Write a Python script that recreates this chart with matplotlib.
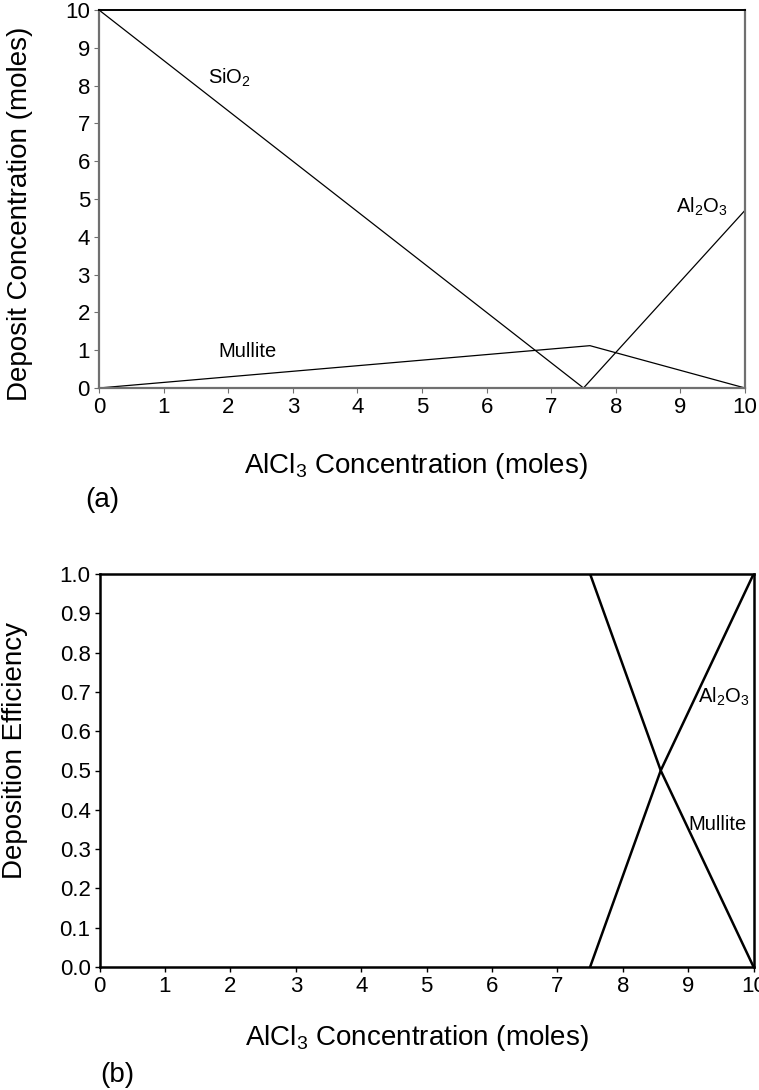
import matplotlib
matplotlib.use("Agg")
import matplotlib.pyplot as plt

plt.rcParams['font.family'] = ['Liberation Sans', 'DejaVu Sans']
plt.rcParams['mathtext.fontset'] = 'custom'
plt.rcParams['mathtext.rm'] = 'Liberation Sans'
plt.rcParams['mathtext.it'] = 'Liberation Sans'
plt.rcParams['mathtext.default'] = 'regular'

# (a) deposit concentration vs AlCl3
sio2_x = [0, 7.5]
sio2_y = [10, 0]
al2o3_x = [7.5, 10]
al2o3_y = [0, 4.7]
mullite_x = [0, 7.6, 10]
mullite_y = [0, 1.12, 0]

# (b) deposition efficiency
eff_x = [7.5, 8.58, 10]
eff_al2o3 = [0, 0.5, 1.0]
eff_mullite = [1.0, 0.5, 0]

x_ticks = list(range(0, 11))
y_ticks_a = list(range(0, 11))
y_ticks_b = [i / 10 for i in range(0, 11)]

W, H = 759, 1090
fig = plt.figure(figsize=(W / 100, H / 100), dpi=100)

def box(l, t, r, b):
    return [l / W, 1 - b / H, (r - l) / W, (b - t) / H]

grey = '#707070'
label_fs = 20
tick_fs = 16
note_fs = 14.5

# ---- panel (a)
ax1 = fig.add_axes(box(99, 10, 745, 388))
ax1.plot(sio2_x, sio2_y, color='black', lw=0.9)
ax1.plot(al2o3_x, al2o3_y, color='black', lw=0.9)
ax1.plot(mullite_x, mullite_y, color='black', lw=0.9)
ax1.set_xlim(0, 10)
ax1.set_ylim(0, 10)
ax1.set_xticks(x_ticks)
ax1.set_yticks(y_ticks_a)
ax1.tick_params(labelsize=tick_fs, direction='out', length=3.5, width=0.8,
                color=grey, pad=3)
ax1.set_ylabel('Deposit Concentration (moles)', fontsize=label_fs)
ax1.yaxis.set_label_coords(-0.102, 0.46)
ax1.set_xlabel(r'AlCl$_3$ Concentration (moles)', fontsize=label_fs, va='baseline')
ax1.xaxis.set_label_coords(0.49, -0.225)
ax1.spines['top'].set_linewidth(1.4)
for side in ['left', 'bottom', 'right']:
    ax1.spines[side].set_color(grey)
    ax1.spines[side].set_linewidth(1.6)
ax1.text(1.68, 8.04, r'SiO$_2$', fontsize=note_fs)
ax1.text(8.93, 4.63, r'Al$_2$O$_3$', fontsize=note_fs)
ax1.text(1.85, 0.82, 'Mullite', fontsize=note_fs)
fig.text(85 / W, 1 - 500 / H, '(a)', fontsize=label_fs, va='center')

# ---- panel (b)
ax2 = fig.add_axes(box(99.6, 574, 753.6, 967))
ax2.plot(eff_x, eff_al2o3, color='black', lw=1.8)
ax2.plot(eff_x, eff_mullite, color='black', lw=1.8)
ax2.set_xlim(0, 10)
ax2.set_ylim(0, 1.0)
ax2.set_xticks(x_ticks)
ax2.set_yticks(y_ticks_b)
ax2.set_yticklabels([f'{v:.1f}' for v in y_ticks_b])
ax2.tick_params(labelsize=tick_fs, direction='out', length=3.5, width=1.0, pad=3)
ax2.set_ylabel('Deposition Efficiency', fontsize=label_fs)
ax2.yaxis.set_label_coords(-0.110, 0.55)
ax2.set_xlabel(r'AlCl$_3$ Concentration (moles)', fontsize=label_fs, va='baseline')
ax2.xaxis.set_label_coords(0.485, -0.198)
for s in ax2.spines.values():
    s.set_linewidth(1.8)
ax2.text(9.15, 0.672, r'Al$_2$O$_3$', fontsize=note_fs)
ax2.text(9.0, 0.349, 'Mullite', fontsize=note_fs)
fig.text(100 / W, 1 - 1075 / H, '(b)', fontsize=label_fs, va='center')

fig.savefig('out.png', dpi=100)
